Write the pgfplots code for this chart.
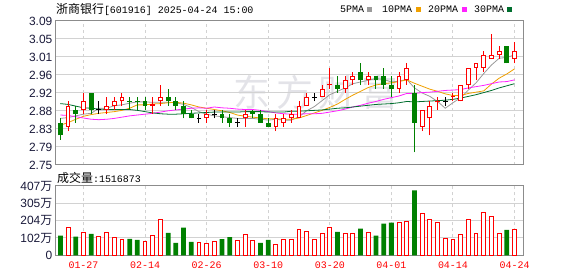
\documentclass[border=0pt]{standalone}
\usepackage{fontspec}
\setmainfont{Liberation Sans}
\newfontfamily\cjk{Noto Sans CJK SC}
\newfontfamily\mono{Liberation Mono}
\usepackage{pgfplots}
\usepackage{pgfplotstable}
\pgfplotsset{compat=1.18}
\definecolor{kred}{HTML}{FF0000}
\definecolor{kgrn}{HTML}{008000}
\definecolor{ma5}{HTML}{9A9A9A}
\definecolor{ma10}{HTML}{F0A000}
\definecolor{ma20}{HTML}{FF22FF}
\definecolor{ma30}{HTML}{006E2E}
\definecolor{frm}{HTML}{8C8C8C}
\definecolor{grd}{HTML}{D2D2D2}
\definecolor{lbl}{HTML}{1A1A3A}
\definecolor{wm}{HTML}{E3E3E8}

\pgfplotsset{
  wick/.style={draw=none, mark=none, error bars/.cd, y dir=plus, y explicit, error mark=none, error bar style={line width=1bp, solid, draw=#1}},
  body/.style n args={2}{draw=none, mark=none, error bars/.cd, y dir=plus, y explicit, error mark=none, error bar style={line width=#2, solid, draw=#1}},
}

% moving averages
\pgfplotstableread{
x y
1 2.860
2 2.862
3 2.866
4 2.870
5 2.872
6 2.884
7 2.884
8 2.890
9 2.892
10 2.896
11 2.899
12 2.899
13 2.898
14 2.898
15 2.898
16 2.897
17 2.893
18 2.886
19 2.876
20 2.870
21 2.866
22 2.864
23 2.862
24 2.860
25 2.860
26 2.860
27 2.858
28 2.856
29 2.858
30 2.856
31 2.856
32 2.864
33 2.878
34 2.888
35 2.902
36 2.916
37 2.924
38 2.932
39 2.942
40 2.946
41 2.950
42 2.954
43 2.952
44 2.946
45 2.948
46 2.952
47 2.932
48 2.920
49 2.912
50 2.900
51 2.884
52 2.897
53 2.909
54 2.927
55 2.944
56 2.966
57 2.986
58 3.002
59 3.004
60 3.010
}\maA

\pgfplotstableread{
x y
1 2.844
2 2.850
3 2.858
4 2.865
5 2.869
6 2.872
7 2.874
8 2.876
9 2.879
10 2.884
11 2.892
12 2.892
13 2.894
14 2.895
15 2.897
16 2.898
17 2.896
18 2.892
19 2.887
20 2.884
21 2.881
22 2.878
23 2.874
24 2.868
25 2.865
26 2.863
27 2.861
28 2.859
29 2.859
30 2.858
31 2.858
32 2.861
33 2.867
34 2.873
35 2.879
36 2.886
37 2.894
38 2.905
39 2.915
40 2.924
41 2.933
42 2.939
43 2.942
44 2.944
45 2.947
46 2.951
47 2.943
48 2.936
49 2.929
50 2.924
51 2.918
52 2.914
53 2.914
54 2.919
55 2.922
56 2.925
57 2.941
58 2.955
59 2.965
60 2.977
}\maB

\pgfplotstableread{
x y
1 2.868
2 2.867
3 2.864
4 2.861
5 2.858
6 2.857
7 2.858
8 2.860
9 2.863
10 2.866
11 2.868
12 2.870
13 2.872
14 2.875
15 2.878
16 2.880
17 2.882
18 2.884
19 2.885
20 2.884
21 2.887
22 2.885
23 2.884
24 2.882
25 2.881
26 2.881
27 2.879
28 2.876
29 2.873
30 2.871
31 2.870
32 2.870
33 2.871
34 2.871
35 2.872
36 2.875
37 2.878
38 2.882
39 2.887
40 2.891
41 2.896
42 2.900
43 2.905
44 2.909
45 2.913
46 2.919
47 2.919
48 2.921
49 2.922
50 2.924
51 2.926
52 2.927
53 2.928
54 2.932
55 2.935
56 2.938
57 2.942
58 2.946
59 2.947
60 2.951
}\maC

\pgfplotstableread{
x y
1 2.895
2 2.893
3 2.889
4 2.885
5 2.884
6 2.882
7 2.881
8 2.881
9 2.881
10 2.881
11 2.879
12 2.876
13 2.873
14 2.871
15 2.870
16 2.870
17 2.871
18 2.872
19 2.873
20 2.874
21 2.875
22 2.875
23 2.875
24 2.875
25 2.876
26 2.876
27 2.876
28 2.875
29 2.875
30 2.875
31 2.877
32 2.877
33 2.878
34 2.879
35 2.880
36 2.882
37 2.884
38 2.885
39 2.887
40 2.889
41 2.891
42 2.893
43 2.894
44 2.895
45 2.897
46 2.900
47 2.899
48 2.900
49 2.901
50 2.902
51 2.903
52 2.905
53 2.908
54 2.912
55 2.916
56 2.921
57 2.926
58 2.932
59 2.937
60 2.942
}\maD

% candles: x, body low, body high, low, high
\pgfplotstableread{
x lo hi l h
2 2.84 2.89 2.83 2.90
4 2.88 2.90 2.87 2.92
7 2.88 2.89 2.87 2.91
8 2.89 2.90 2.88 2.91
9 2.90 2.91 2.89 2.92
14 2.90 2.91 2.89 2.94
20 2.86 2.87 2.85 2.88
25 2.86 2.87 2.84 2.88
29 2.84 2.86 2.83 2.87
30 2.85 2.86 2.84 2.87
31 2.86 2.87 2.85 2.88
32 2.86 2.89 2.86 2.90
33 2.89 2.91 2.89 2.92
35 2.91 2.93 2.91 2.94
38 2.93 2.95 2.92 2.96
39 2.95 2.96 2.94 2.97
41 2.95 2.96 2.94 2.97
45 2.93 2.96 2.92 2.97
46 2.95 2.98 2.94 2.99
48 2.84 2.88 2.83 2.88
49 2.86 2.89 2.82 2.90
53 2.90 2.94 2.90 2.94
54 2.94 2.98 2.93 2.98
55 2.98 2.99 2.95 2.99
56 2.98 3.01 2.97 3.02
57 3.00 3.01 3.00 3.06
58 3.01 3.02 3.00 3.03
60 3.00 3.02 2.99 3.04
}\cR

\pgfplotstableread{
x lo hi l h
13 2.890 2.893 2.87 2.91
36 2.940 2.942 2.93 2.98
50 2.898 2.902 2.88 2.91
52 2.910 2.912 2.90 2.92
}\cRt

\pgfplotstableread{
x lo hi l h
1 2.82 2.85 2.81 2.86
3 2.87 2.88 2.85 2.89
5 2.88 2.92 2.87 2.92
10 2.898 2.90 2.88 2.91
11 2.898 2.90 2.88 2.91
12 2.89 2.90 2.88 2.91
15 2.90 2.91 2.89 2.93
16 2.89 2.90 2.88 2.91
17 2.87 2.89 2.86 2.90
18 2.86 2.87 2.86 2.88
22 2.86 2.87 2.85 2.88
23 2.85 2.86 2.84 2.87
26 2.87 2.878 2.86 2.88
27 2.85 2.87 2.85 2.88
28 2.84 2.85 2.84 2.86
37 2.93 2.94 2.92 2.96
40 2.95 2.97 2.94 2.99
42 2.95 2.96 2.93 2.96
43 2.94 2.96 2.93 2.98
44 2.93 2.94 2.91 2.96
47 2.85 2.92 2.78 2.94
59 2.99 3.03 2.99 3.03
}\cG

\pgfplotstableread{
x lo hi l h
6 2.88 2.88 2.87 2.90
19 2.86 2.86 2.85 2.87
21 2.87 2.87 2.86 2.88
24 2.85 2.85 2.84 2.86
34 2.91 2.91 2.90 2.92
51 2.90 2.90 2.89 2.91
}\cK

% volume (10k shares)
\pgfplotstableread{
x v
2 166
4 136
6 113
7 136
8 107
9 95
12 79
13 119
14 208
19 77
20 67
21 83
24 89
25 125
26 89
29 65
30 95
31 95
32 154
33 142
34 95
35 130
36 166
38 130
39 130
41 136
45 192
46 198
48 245
49 208
50 192
51 101
52 95
53 125
54 213
55 130
56 249
57 225
58 130
60 151.7
}\volR

\pgfplotstableread{
x v
1 115
3 109
5 126
10 97
11 91
15 132
16 73
17 162
18 79
22 95
23 107
27 73
28 91
37 138
40 156
42 115
43 186
44 192
47 381
59 150
}\volG

\begin{document}
\begin{tikzpicture}
\path[use as bounding box] (0bp,0bp) rectangle (578bp,276bp);
% watermark
\node[anchor=center, text=wm, inner sep=0pt] at (316bp,184bp) {\cjk\fontsize{37}{37}\selectfont 东\hspace{6bp}方\hspace{6bp}财\hspace{6bp}富};

% title and legend
\node[anchor=west, inner sep=0pt] at (56bp,266.7bp) {{\cjk\fontsize{12}{12}\selectfont 浙商银行}{\mono\fontsize{10}{10}\selectfont[601916] 2025-04-24 15:00}};
\node[anchor=west, inner sep=0pt] at (340bp,266.7bp) {\mono\fontsize{10}{10}\selectfont 5PMA\hspace{3bp}\textcolor{ma5}{\rule[0.5bp]{5bp}{5bp}}};
\node[anchor=west, inner sep=0pt] at (382bp,266.7bp) {\mono\fontsize{10}{10}\selectfont 10PMA\hspace{4bp}\textcolor{ma10}{\rule[0.5bp]{5bp}{5bp}}};
\node[anchor=west, inner sep=0pt] at (428bp,266.7bp) {\mono\fontsize{10}{10}\selectfont 20PMA\hspace{4bp}\textcolor{ma20}{\rule[0.5bp]{5bp}{5bp}}};
\node[anchor=west, inner sep=0pt] at (474bp,266.7bp) {\mono\fontsize{10}{10}\selectfont 30PMA\hspace{3bp}\textcolor{ma30}{\rule[0.5bp]{5bp}{5bp}}};
\node[anchor=west, inner sep=0pt] at (57bp,98bp) {{\cjk\fontsize{12}{12}\selectfont 成交量}{\mono\fontsize{10}{10}\selectfont:1516873}};

\begin{axis}[
  at={(55bp,111bp)}, anchor=south west, scale only axis,
  width=468bp, height=144bp,
  xmin=0.3, xmax=61.1, ymin=2.75, ymax=3.09,
  xtick={4,12,20,28,36,44,52,60}, xticklabels={},
  ytick={2.75,2.7925,2.835,2.8775,2.92,2.9625,3.005,3.0475,3.09},
  yticklabels={2.75,2.79,2.83,2.88,2.92,2.96,3.01,3.05,3.09},
  major tick length=0pt,
  xmajorgrids, ymajorgrids,
  x grid style={grd, line width=1bp, dash pattern=on 3bp off 3bp},
  y grid style={grd, line width=1bp},
  axis line style={frm, line width=1bp},
  yticklabel style={font=\fontsize{12}{12}\selectfont, text=lbl, inner sep=0pt, xshift=-2.5bp},
]
\addplot[ma5, line width=0.8bp, mark=none] table[x=x,y=y] {\maA};
\addplot[ma10, line width=0.8bp, mark=none] table[x=x,y=y] {\maB};
\addplot[ma20, line width=0.8bp, mark=none] table[x=x,y=y] {\maC};
\addplot[ma30, line width=0.8bp, mark=none] table[x=x,y=y] {\maD};
% wicks
\addplot[wick=kred] table[x=x, y=l, y error expr=\thisrow{h}-\thisrow{l}] {\cR};
\addplot[wick=kred] table[x=x, y=l, y error expr=\thisrow{h}-\thisrow{l}] {\cRt};
\addplot[wick=kgrn] table[x=x, y=l, y error expr=\thisrow{h}-\thisrow{l}] {\cG};
\addplot[wick=black] table[x=x, y=l, y error expr=\thisrow{h}-\thisrow{l}] {\cK};
% bodies
\addplot[body={kred}{4.8bp}] table[x=x, y=lo, y error expr=\thisrow{hi}-\thisrow{lo}] {\cR};
\addplot[body={white}{2.8bp}] table[x=x, y expr=\thisrow{lo}+0.00236, y error expr=\thisrow{hi}-\thisrow{lo}-0.00472] {\cR};
\addplot[body={kred}{4.8bp}] table[x=x, y=lo, y error expr=\thisrow{hi}-\thisrow{lo}] {\cRt};
\addplot[body={kgrn}{4.8bp}] table[x=x, y=lo, y error expr=\thisrow{hi}-\thisrow{lo}] {\cG};
\addplot[only marks, mark=-, mark size=2.4bp, black, mark options={line width=1bp, solid}] table[x=x, y=lo] {\cK};
\end{axis}

\begin{axis}[
  at={(55bp,20.7bp)}, anchor=south west, scale only axis,
  width=468bp, height=69.3bp,
  xmin=0.3, xmax=61.1, ymin=0, ymax=407,
  xtick={4,12,20,28,36,44,52,60},
  xticklabels={01-27,02-14,02-26,03-10,03-20,04-01,04-14,04-24},
  ytick={0,101.75,203.5,305.25,407},
  yticklabels={0,102{\cjk 万},204{\cjk 万},305{\cjk 万},407{\cjk 万}},
  major tick length=0pt,
  xmajorgrids, ymajorgrids,
  x grid style={grd, line width=1bp, dash pattern=on 3bp off 3bp},
  y grid style={grd, line width=1bp},
  axis line style={frm, line width=1bp},
  yticklabel style={font=\fontsize{12}{12}\selectfont, text=lbl, inner sep=0pt, xshift=-2.5bp},
  xticklabel style={font=\mono\fontsize{10}{10}\selectfont, text=kred, inner sep=0pt, anchor=north, yshift=-6.4bp},
]
\addplot[ybar, bar width=0.5, bar shift=0pt, draw=kred, fill=white, line width=1bp] table[x=x,y=v] {\volR};
\addplot[ybar, bar width=0.62, bar shift=0pt, draw=none, fill=kgrn] table[x=x,y=v] {\volG};
\end{axis}
\end{tikzpicture}
\end{document}
